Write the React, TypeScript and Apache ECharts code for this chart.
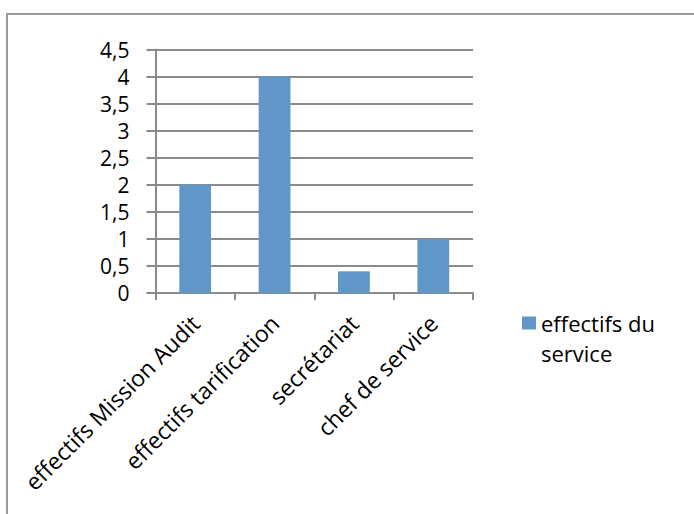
import React, { useEffect, useRef } from "react";
import * as echarts from "echarts";

const categories = ["effectifs Mission Audit", "effectifs tarification", "secrétariat", "chef de service"];
const values = [2, 4, 0.4, 1];
const seriesName = "effectifs du service";

export default function App() {
  const ref = useRef<HTMLDivElement>(null);
  useEffect(() => {
    const chart = echarts.init(ref.current!, null, { renderer: "svg" });
    const font = "'Open Sans', 'Noto Sans', sans-serif";
    chart.setOption({
      animation: false,
      backgroundColor: "#ffffff",
      textStyle: { fontFamily: font },
      grid: { left: 155.5, right: 221, top: 49.5, bottom: 221, containLabel: false },
      legend: {
        show: true,
        left: 517,
        top: 273,
        orient: "vertical",
        itemWidth: 14,
        itemHeight: 13,
        icon: "rect",
        data: [seriesName],
        formatter: () => "\neffectifs du\nservice",
        textStyle: { fontSize: 22, color: "#000", fontFamily: font, lineHeight: 30 },
      },
      graphic: [
        {
          type: "rect",
          shape: { x: 7, y: 14, width: 720, height: 540 },
          style: { fill: "none", stroke: "#9a9a9a", lineWidth: 2 },
          silent: true,
        },
      ],
      xAxis: {
        type: "category",
        data: categories,
        boundaryGap: true,
        axisLine: { show: true, lineStyle: { color: "#8a8a8a", width: 2 } },
        axisTick: { show: true, length: 7, alignWithLabel: false, lineStyle: { color: "#8a8a8a", width: 2 } },
        axisLabel: { rotate: 45, fontSize: 23, color: "#000", fontFamily: font, margin: 26, interval: 0 },
      },
      yAxis: {
        type: "value",
        min: 0,
        max: 4.5,
        interval: 0.5,
        axisLine: { show: true, lineStyle: { color: "#8a8a8a", width: 2 } },
        axisTick: { show: true, length: 9, lineStyle: { color: "#8a8a8a", width: 2 } },
        splitLine: { show: true, lineStyle: { color: "#8a8a8a", width: 2 } },
        axisLabel: {
          fontSize: 21,
          lineHeight: 21,
          color: "#000",
          fontFamily: font,
          margin: 26,
          showMinLabel: true,
          showMaxLabel: true,
          formatter: (v: number) => String(v).replace(".", ","),
        },
      },
      series: [
        {
          name: seriesName,
          type: "bar",
          data: values,
          barWidth: "40%",
          itemStyle: { color: "#6096c8" },
        },
      ],
    });
    return () => chart.dispose();
  }, []);
  return <div ref={ref} style={{ position: "absolute", left: 0, top: 0, width: 694, height: 514 }} />;
}
